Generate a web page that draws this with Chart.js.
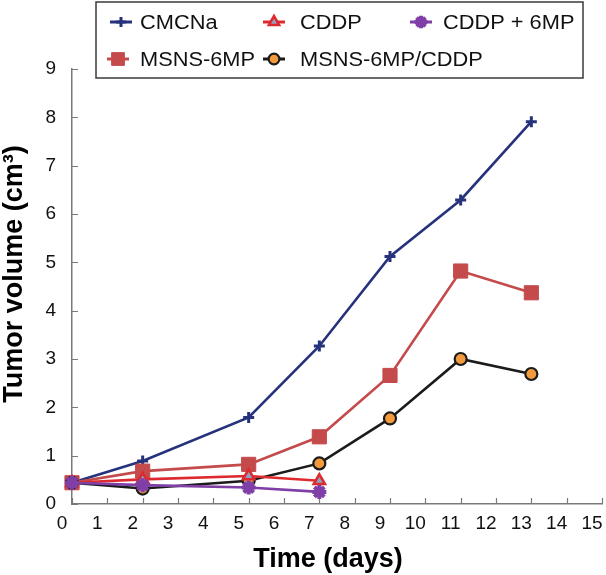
<!DOCTYPE html>
<html><head><meta charset="utf-8">
<script src="https://cdn.jsdelivr.net/npm/chart.js@4/dist/chart.umd.min.js"></script>
<style>html,body{margin:0;padding:0;background:#fff}#wrap{width:606px;height:575px;position:relative}</style>
</head><body><div id="wrap"><canvas id="c" width="606" height="575"></canvas></div>
<script>
// ---- data ----
const daysLong = [0, 2, 5, 7, 9, 11, 13];
const daysShort = [0, 2, 5, 7];
const seriesNames = ['CMCNa', 'CDDP', 'CDDP + 6MP', 'MSNS-6MP', 'MSNS-6MP/CDDP'];
const cmcna = [0.44, 0.89, 1.79, 3.27, 5.12, 6.29, 7.91];
const cddp = [0.44, 0.51, 0.58, 0.48];
const cddp6mp = [0.44, 0.39, 0.34, 0.25];
const msns6mp = [0.44, 0.68, 0.82, 1.39, 2.66, 4.82, 4.37];
const msnsCddp = [0.44, 0.32, 0.48, 0.84, 1.77, 3.00, 2.69];
const xTickValues = [0,1,2,3,4,5,6,7,8,9,10,11,12,13,14,15];
const yTickValues = [0,1,2,3,4,5,6,7,8,9];
const xTitle = 'Time (days)';
const yTitle = 'Tumor volume (cm³)';

const toXY = (xs, ys) => ys.map((v, i) => ({x: xs[i], y: v}));
const FONT = "'Liberation Sans', Arial, sans-serif";

const datasets = [
  {label: seriesNames[0], data: toXY(daysLong, cmcna), borderColor: '#26327c', backgroundColor: '#26327c',
   pointStyle: 'cross', pointRadius: 5.5, pointBorderWidth: 3, borderWidth: 2.6, order: 5},
  {label: seriesNames[3], data: toXY(daysLong, msns6mp), borderColor: '#c44a4c', backgroundColor: '#c44a4c',
   pointStyle: 'rect', pointRadius: 10, pointBorderWidth: 1, borderWidth: 2.6, order: 4},
  {label: seriesNames[4], data: toXY(daysLong, msnsCddp), borderColor: '#1b1b1b', backgroundColor: '#f29a3c',
   pointStyle: 'circle', pointRadius: 6, pointBorderWidth: 2.2, borderWidth: 2.6, order: 3},
  {label: seriesNames[1], data: toXY(daysShort, cddp), borderColor: '#dd2a2e', backgroundColor: '#8fa3c4',
   pointStyle: 'triangle', pointRadius: 6.5, pointBorderWidth: 2.6, borderWidth: 2.6, order: 2},
  {label: seriesNames[2], data: toXY(daysShort, cddp6mp), borderColor: '#7f3fa6', backgroundColor: '#7f3fa6',
   pointStyle: 'star', pointRadius: 7, pointBorderWidth: 4, borderWidth: 2.6, order: 1}
];
datasets.forEach(d => { d.clip = false; d.tension = 0; d.pointHoverRadius = d.pointRadius; });

// inward tick marks
const inwardTicks = {
  id: 'inwardTicks',
  beforeDatasetsDraw(chart) {
    const ctx = chart.ctx, x = chart.scales.x, y = chart.scales.y;
    ctx.save();
    ctx.strokeStyle = '#7a7a7a';
    ctx.lineWidth = 1.2;
    ctx.beginPath();
    xTickValues.forEach(v => { const p = Math.round(x.getPixelForValue(v)) + 0.5; ctx.moveTo(p, y.bottom); ctx.lineTo(p, y.bottom - 6); });
    yTickValues.forEach(v => { const p = Math.round(y.getPixelForValue(v)) + 0.5; ctx.moveTo(x.left, p); ctx.lineTo(x.left + 6, p); });
    ctx.stroke();
    ctx.restore();
  }
};

// axis titles
const axisTitles = {
  id: 'axisTitles',
  afterDraw(chart) {
    const ctx = chart.ctx;
    ctx.save();
    ctx.fillStyle = '#000';
    ctx.font = 'bold 27px ' + FONT;
    ctx.textAlign = 'center';
    ctx.textBaseline = 'alphabetic';
    ctx.fillText(xTitle, 328, 567);
    ctx.translate(22, 274);
    ctx.rotate(-Math.PI / 2);
    ctx.fillText(yTitle, 0, 0);
    ctx.restore();
  }
};

// boxed two-row legend
const boxLegend = {
  id: 'boxLegend',
  afterDraw(chart) {
    const ctx = chart.ctx;
    ctx.save();
    ctx.fillStyle = '#fff';
    ctx.fillRect(96, 2, 487, 76);
    ctx.strokeStyle = '#3a3a3a';
    ctx.lineWidth = 1.5;
    ctx.strokeRect(96, 2, 487, 76);
    const slots = [
      {ds: 0, m: 121, t: 140, y: 22}, {ds: 3, m: 274, t: 300, y: 22}, {ds: 4, m: 421, t: 443, y: 22},
      {ds: 1, m: 118, t: 140, y: 59}, {ds: 2, m: 274, t: 300, y: 59}
    ];
    slots.forEach(s => {
      const d = chart.data.datasets[s.ds];
      ctx.strokeStyle = d.borderColor;
      ctx.lineWidth = 3;
      ctx.beginPath(); ctx.moveTo(s.m - 11, s.y); ctx.lineTo(s.m + 11, s.y); ctx.stroke();
      ctx.fillStyle = d.backgroundColor;
      ctx.strokeStyle = d.borderColor;
      ctx.lineWidth = d.pointBorderWidth;
      Chart.helpers.drawPoint(ctx, {pointStyle: d.pointStyle, radius: d.pointRadius * 0.9, rotation: 0, borderWidth: d.pointBorderWidth}, s.m, s.y);
      ctx.fillStyle = '#111';
      ctx.font = '20px ' + FONT;
      ctx.textBaseline = 'middle';
      ctx.textAlign = 'left';
      ctx.save();
      ctx.translate(s.t, s.y + 1);
      ctx.scale(1.09, 1);
      ctx.fillText(d.label, 0, 0);
      ctx.restore();
    });
    ctx.restore();
  }
};

new Chart(document.getElementById('c'), {
  type: 'line',
  data: {datasets},
  options: {
    responsive: false,
    animation: false,
    devicePixelRatio: 1,
    layout: {autoPadding: false, padding: {top: 69, right: 4, left: 0, bottom: 0}},
    plugins: {legend: {display: false}, tooltip: {enabled: false}},
    scales: {
      x: {
        type: 'linear', min: 0, max: 15,
        afterBuildTicks: s => { s.ticks = xTickValues.map(v => ({value: v})); },
        afterFit: s => { s.height = 71; s.paddingLeft = 0; s.paddingRight = 0; },
        ticks: {font: {size: 19, family: FONT}, color: '#111', padding: 8, labelOffset: -10, maxRotation: 0, autoSkip: false},
        grid: {drawOnChartArea: false, drawTicks: false},
        border: {color: '#7a7a7a', width: 1.5},
        title: {display: false}
      },
      y: {
        type: 'linear', min: 0, max: 9,
        afterBuildTicks: s => { s.ticks = yTickValues.map(v => ({value: v})); },
        afterFit: s => { s.width = 72; s.paddingTop = 0; s.paddingBottom = 0; },
        ticks: {font: {size: 19, family: FONT}, color: '#111', padding: 16},
        grid: {drawOnChartArea: false, drawTicks: false},
        border: {color: '#7a7a7a', width: 1.5},
        title: {display: false}
      }
    }
  },
  plugins: [inwardTicks, axisTitles, boxLegend]
});
</script>
</body></html>
